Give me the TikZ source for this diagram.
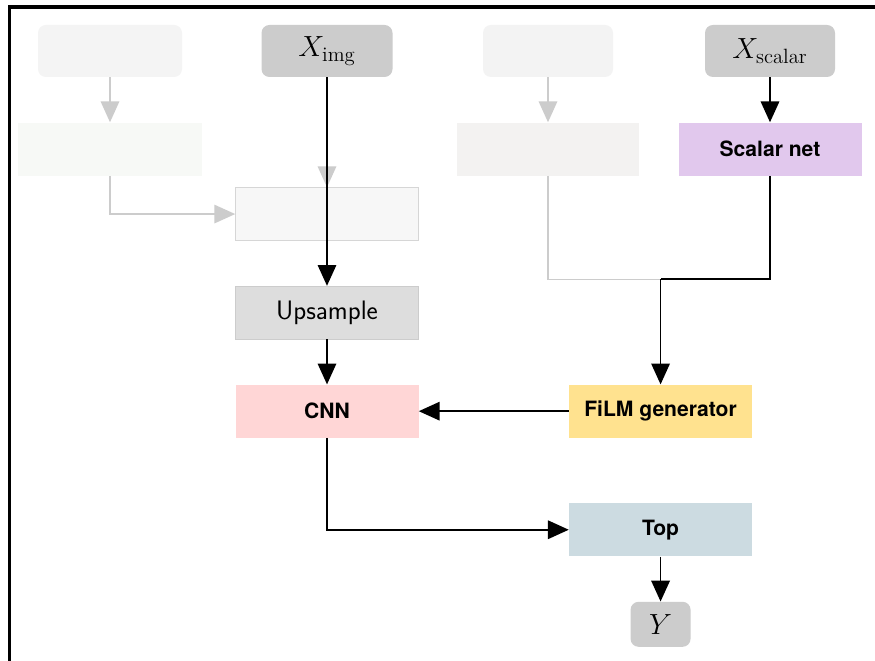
\documentclass[tikz,border=0pt]{standalone}
\usepackage{fontspec}
\usepackage{tikz}
\usetikzlibrary{arrows.meta, positioning, calc}
\newfontfamily\heros{TeX Gyre Heros}
\definecolor{cIn}{RGB}{204,204,204}
\definecolor{cGhostA}{RGB}{244,244,244}
\definecolor{cGhostB}{RGB}{247,249,246}
\definecolor{cGhostC}{RGB}{243,242,241}
\definecolor{cGhostD}{RGB}{247,247,247}
\definecolor{cGhostE}{RGB}{243,243,243}
\definecolor{cGhostLine}{RGB}{214,214,214}
\definecolor{cUp}{RGB}{221,221,221}
\definecolor{cCnn}{RGB}{255,214,214}
\definecolor{cScalar}{RGB}{225,200,237}
\definecolor{cFilm}{RGB}{255,226,143}
\definecolor{cTop}{RGB}{204,219,225}
\definecolor{cFaint}{RGB}{204,204,204}
\tikzset{
    inbox/.style   ={rectangle, rounded corners=0.2cm, minimum width=3.275cm, minimum height=1.3cm, inner sep=0pt, align=center, fill=cIn, font=\fontsize{21}{24}\selectfont},
    ghostin/.style ={rectangle, rounded corners=0.2cm, minimum width=3.6cm, minimum height=1.3cm, inner sep=0pt, fill=cGhostA},
    block/.style   ={rectangle, minimum width=4.575cm, minimum height=1.325cm, inner sep=0pt, align=center, font=\heros\bfseries\fontsize{15}{18}\selectfont},
    ghostbox/.style={rectangle, minimum width=4.6cm, minimum height=1.325cm, inner sep=0pt},
    flowarrow/.style={-{Triangle[length=0.52cm, width=0.46cm]}, line width=1.3pt},
    flowline/.style ={line width=1.3pt},
    fadearrow/.style={-{Triangle[length=0.52cm, width=0.46cm]}, line width=1.1pt, draw=cFaint},
    fadeline/.style ={line width=1.1pt, draw=cFaint},
}

\begin{document}
\begin{tikzpicture}[node distance=1.125cm]
                \useasboundingbox[fill=white] (0,0) rectangle (21.875,-16.525);
                \draw[line width=2.2pt] (0.2375,-16.525) -- (0.2375,-0.175) -- (21.875,-0.175);
                % top row
                \node[ghostin] (ga) at (2.75,-1.275){};
                \node[inbox] (ximg) at (8.175,-1.275){$X_{\mathrm{img}}$};
                \node[ghostin, minimum width=3.25cm, fill=cGhostE] (gc) at (13.7,-1.275){};
                \node[inbox, minimum width=3.25cm] (xsc) at (19.25,-1.275){$X_{\mathrm{scalar}}$};
                % second row
                \node[ghostbox, fill=cGhostB] (gb) [below=of ga]{};
                \node[ghostbox, minimum width=4.55cm, fill=cGhostC] (gd) [below=of gc]{};
                \node[block, fill=cScalar] (snet) [below=of xsc]{Scalar net};
                % image branch
                \node[ghostbox, minimum width=4.575cm, fill=cGhostD, draw=cGhostLine, thin] (ge) [below=2.75cm of ximg]{};
                \node[block, fill=cUp, draw=cIn, thin, font=\sffamily\fontsize{19}{22}\selectfont] (ups) [below=of ge]{Upsample};
                \node[block, fill=cCnn] (cnn) [below=of ups]{CNN};
                \node[block, fill=cFilm] (film) [right=3.75cm of cnn]{FiLM generator};
                \node[block, fill=cTop] (top) [below=1.625cm of film]{Top};
                \node[inbox, minimum width=1.5cm, minimum height=1.125cm] (yout) [below=of top]{$Y$};
                \coordinate (mrg) at ([yshift=2.625cm]film.north);
                % faded links
                \draw[fadearrow](ga)--(gb);
                \draw[fadearrow](gb.south)|-(ge.west);
                \draw[fadearrow](ximg.south)--(ge.north);
                \draw[fadearrow](gc)--(gd);
                \draw[fadeline](gd.south)|-(mrg);
                % main links
                \draw[flowarrow](ximg.south)--(ups.north);
                \draw[flowarrow](xsc)--(snet);
                \draw[flowline](snet.south)|-(mrg);
                \draw[flowarrow](mrg)--(film.north);
                \draw[flowarrow](ups)--(cnn);
                \draw[flowarrow](film)--(cnn);
                \draw[flowarrow](cnn.south)|-(top.west);
                \draw[flowarrow](top)--(yout);
            \end{tikzpicture}
\end{document}
